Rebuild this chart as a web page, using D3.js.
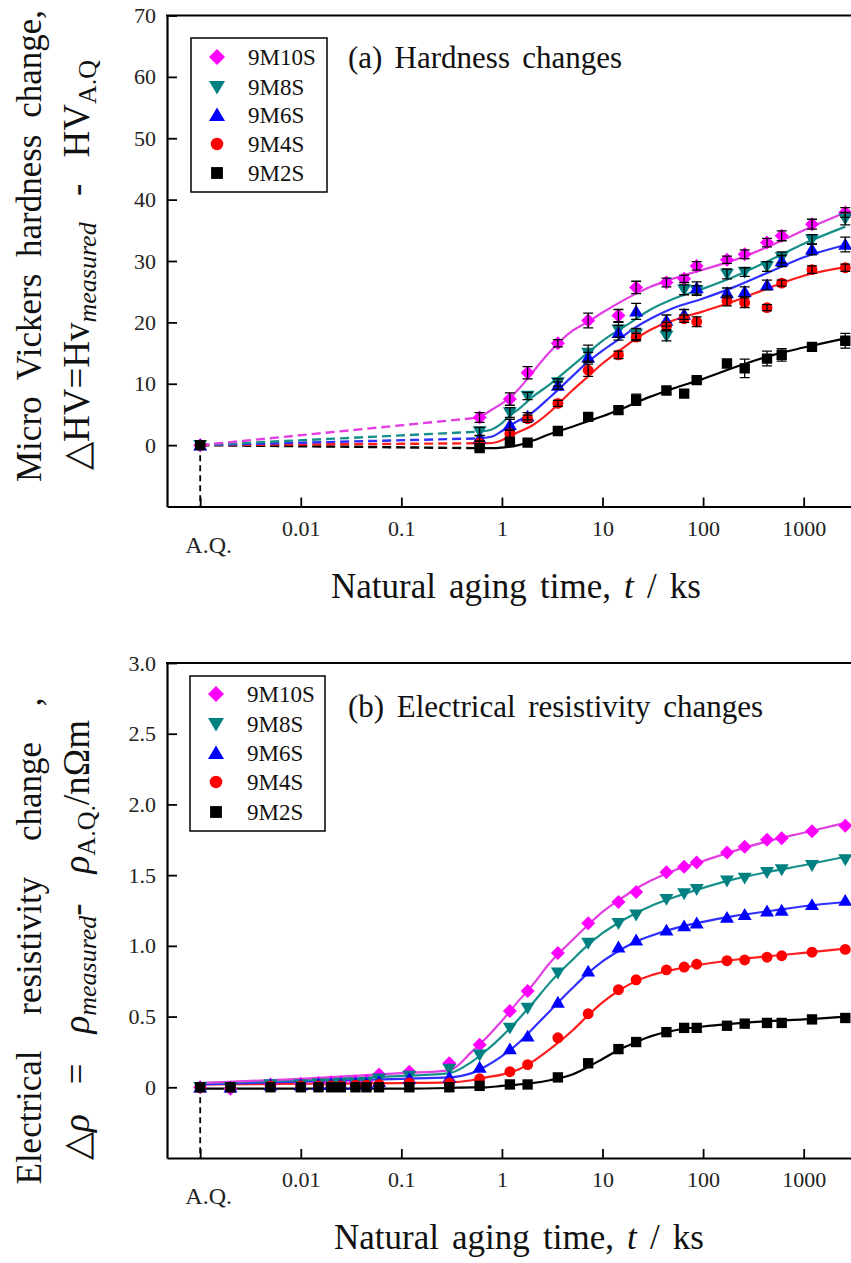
<!DOCTYPE html>
<html>
<head>
<meta charset="utf-8">
<script src="https://cdnjs.cloudflare.com/ajax/libs/d3/7.8.5/d3.min.js"></script>
<style>
  body { margin: 0; background: #fff; }
  svg { display: block; }
</style>
</head>
<body>
<svg id="fig" width="851" height="1263"></svg>
<script>
// ---- series ----
var seriesNames  = ["9M10S", "9M8S", "9M6S", "9M4S", "9M2S"];
var markerColors = ["#ff00ff", "#008080", "#0000ff", "#ff0000", "#000000"];
var lineColors   = ["#e23ee2", "#17908a", "#2f2fff", "#ff1c1c", "#000000"];
var markerShapes = ["diamond", "down", "up", "circle", "square"];

// ---- (a) hardness, t in ks (A.Q. drawn at 0.001) ----
var hvTimes   = [0.001, 0.6, 1.2, 1.8, 3.6, 7.2, 14.4, 21.6, 43.2, 64.8, 86.4, 172.8, 259.2, 432, 604.8, 1209.6, 2592];
var hv9M10S   = [0, 4.5, 7.5, 11.8, 16.6, 20.3, 21.1, 25.7, 26.5, 27.1, 29.2, 30.2, 31.1, 33.0, 34.1, 36.0, 37.9];
var hv9M8S    = [0, 2.2, 5.3, 8.0, 10.2, 15.0, 18.8, 18.1, 17.8, 25.3, 25.2, 27.9, 28.2, 29.1, 30.6, 33.5, 36.9];
var hv9M6S    = [0, 1.1, 3.3, 4.7, 9.7, 14.3, 18.3, 21.8, 20.3, 21.3, 25.6, 24.8, 25.0, 26.1, 30.0, 31.9, 32.7];
var hv9M4S    = [0, 0.3, 1.9, 4.3, 6.8, 12.2, 14.7, 17.6, 19.4, 20.6, 20.1, 23.5, 23.2, 22.4, 26.4, 28.6, 28.9];
var hv9M2S    = [0, -0.5, 0.5, 0.4, 2.3, 4.6, 5.7, 7.4, 8.9, 8.4, 10.6, 13.3, 12.5, 14.1, 14.7, 16.0, 17.0];
var hvErr9M10S = [0, 0.8, 1.0, 1.0, 0.6, 1.2, 1.0, 1.0, 0.7, 0.6, 0.7, 0.6, 0.7, 0.7, 0.8, 0.8, 0.8];
var hvErr9M8S  = [0, 0.7, 0.8, 0.6, 0.6, 1.3, 1.2, 0.9, 0.8, 0.8, 0.8, 0.8, 0.7, 0.8, 0.9, 0.8, 1.0];
var hvErr9M6S  = [0, 0.5, 0.9, 0.6, 0.6, 0.8, 1.2, 1.3, 0.9, 0.8, 1.0, 0.8, 0.8, 0.8, 0.9, 0.9, 1.2];
var hvErr9M4S  = [0, 0.4, 0.6, 0.6, 0.5, 1.0, 0.6, 0.6, 0.6, 0.6, 0.8, 0.8, 0.8, 0.5, 0.5, 0.6, 0.6];
var hvErr9M2S  = [0, 0.4, 0.4, 0.4, 0.4, 0.5, 0.5, 0.9, 0.5, 0.5, 0.5, 0.5, 1.5, 1.2, 1.0, 0.5, 1.2];
// fitted curves
var hvFitTimes  = [0.6, 0.8, 1, 1.2, 1.5, 2, 3, 5, 7.2, 10, 15, 20, 30, 50, 100, 200, 500, 1000, 2600];
var hvFit9M10S  = [4.5, 5.8, 6.8, 7.7, 9.3, 11.8, 15.2, 18.6, 20.1, 21.6, 23.3, 24.4, 25.8, 27.1, 28.6, 30.1, 32.7, 35.0, 37.9];
var hvFit9M8S   = [2.2, 2.6, 3.6, 4.8, 6.0, 7.8, 9.9, 12.9, 15.1, 17.0, 18.9, 20.2, 22.1, 23.8, 25.5, 27.4, 30.4, 32.8, 35.6];
var hvFit9M6S   = [1.1, 1.4, 2.3, 3.2, 4.1, 5.3, 7.8, 11.2, 13.6, 15.4, 17.4, 18.9, 20.6, 22.3, 23.9, 25.7, 28.5, 30.6, 32.6];
var hvFit9M4S   = [0.3, 0.35, 0.8, 1.5, 2.2, 3.2, 5.4, 8.9, 11.2, 13.3, 15.5, 17.0, 18.8, 20.3, 21.8, 23.4, 25.9, 27.6, 29.0];
var hvFit9M2S   = [-0.5, -0.5, -0.4, -0.25, 0.05, 0.7, 1.8, 3.0, 3.9, 4.7, 5.8, 6.7, 7.9, 9.2, 10.8, 12.6, 14.7, 15.9, 17.4];

// ---- (b) resistivity ----
var rhoTimes  = [0.001, 0.002, 0.005, 0.01, 0.015, 0.02, 0.025, 0.035, 0.045, 0.06, 0.12, 0.3, 0.6, 1.2, 1.8, 3.6, 7.2, 14.4, 21.6, 43.2, 64.8, 86.4, 172.8, 259.2, 432, 604.8, 1209.6, 2592];
var rho9M10S  = [0, -0.01, 0.02, 0.025, 0.03, 0.035, 0.035, 0.04, 0.045, 0.09, 0.11, 0.17, 0.30, 0.54, 0.68, 0.95, 1.16, 1.31, 1.38, 1.52, 1.56, 1.59, 1.66, 1.70, 1.75, 1.76, 1.81, 1.85];
var rho9M8S   = [0, 0.0, 0.02, 0.02, 0.025, 0.025, 0.03, 0.03, 0.035, 0.06, 0.08, 0.13, 0.23, 0.42, 0.56, 0.81, 1.02, 1.16, 1.22, 1.33, 1.37, 1.40, 1.46, 1.48, 1.52, 1.54, 1.57, 1.61];
var rho9M6S   = [0, 0.0, 0.015, 0.015, 0.02, 0.02, 0.02, 0.025, 0.025, 0.04, 0.06, 0.07, 0.14, 0.27, 0.36, 0.60, 0.82, 0.99, 1.04, 1.11, 1.14, 1.16, 1.20, 1.22, 1.245, 1.25, 1.29, 1.32];
var rho9M4S   = [0, 0.0, 0.01, 0.01, 0.01, 0.01, 0.01, 0.015, 0.015, 0.02, 0.03, 0.03, 0.06, 0.11, 0.16, 0.35, 0.52, 0.69, 0.76, 0.83, 0.85, 0.87, 0.895, 0.90, 0.92, 0.93, 0.955, 0.975];
var rho9M2S   = [0, 0.0, 0.0, 0.0, 0.0, 0.0, 0.0, 0.0, 0.0, 0.0, 0.0, 0.0, 0.01, 0.02, 0.02, 0.07, 0.17, 0.27, 0.32, 0.39, 0.42, 0.42, 0.435, 0.45, 0.455, 0.455, 0.48, 0.49];
var rhoFitTimes = [0.001, 0.01, 0.1, 0.3, 0.5, 0.7, 1, 1.5, 2, 3, 5, 7, 10, 15, 20, 30, 50, 100, 200, 500, 1000, 2600];
var rhoFit9M10S = [0.03, 0.06, 0.10, 0.12, 0.25, 0.35, 0.47, 0.62, 0.72, 0.88, 1.04, 1.14, 1.24, 1.33, 1.39, 1.46, 1.53, 1.60, 1.67, 1.75, 1.80, 1.87];
var rhoFit9M8S  = [0.03, 0.05, 0.08, 0.10, 0.18, 0.26, 0.36, 0.49, 0.59, 0.74, 0.90, 1.00, 1.09, 1.17, 1.22, 1.28, 1.34, 1.41, 1.47, 1.53, 1.57, 1.63];
var rhoFit9M6S  = [0.02, 0.04, 0.06, 0.07, 0.10, 0.15, 0.22, 0.32, 0.41, 0.54, 0.70, 0.80, 0.89, 0.97, 1.02, 1.07, 1.12, 1.17, 1.21, 1.25, 1.28, 1.31];
var rhoFit9M4S  = [0.02, 0.025, 0.03, 0.035, 0.05, 0.07, 0.09, 0.13, 0.18, 0.27, 0.40, 0.50, 0.60, 0.69, 0.74, 0.79, 0.83, 0.87, 0.90, 0.93, 0.95, 0.98];
var rhoFit9M2S  = [-0.01, -0.01, -0.01, -0.005, 0, 0, 0.01, 0.02, 0.03, 0.05, 0.09, 0.14, 0.20, 0.27, 0.31, 0.36, 0.40, 0.43, 0.45, 0.47, 0.48, 0.50];

// ---- ticks ----
var xTickValues = [0.001, 0.01, 0.1, 1, 10, 100, 1000];
var xTickLabels = ["A.Q.", "0.01", "0.1", "1", "10", "100", "1000"];
var hvTicks     = [0, 10, 20, 30, 40, 50, 60, 70];
var hvMinor     = [-5, 5, 15, 25, 35, 45, 55, 65];
var rhoTicks    = [0, 0.5, 1.0, 1.5, 2.0, 2.5, 3.0];
var rhoTickLabels = ["0", "0.5", "1.0", "1.5", "2.0", "2.5", "3.0"];
var rhoMinor    = [-0.25, 0.25, 0.75, 1.25, 1.75, 2.25, 2.75];

var FONT = "'Liberation Serif','Times New Roman',serif";
var svg = d3.select("#fig");

// marker outline around (0,0)
function shapePath(shape, s) {
	if (shape === "diamond") return "M0," + (-s) + "L" + s + ",0L0," + s + "L" + (-s) + ",0Z";
	if (shape === "down") return "M" + (-s) + "," + (-0.75 * s) + "L" + s + "," + (-0.75 * s) + "L0," + (0.95 * s) + "Z";
	if (shape === "up") return "M" + (-s) + "," + (0.75 * s) + "L" + s + "," + (0.75 * s) + "L0," + (-0.95 * s) + "Z";
	if (shape === "circle") {
		var r = s * 0.78;
		return "M" + r + ",0A" + r + "," + r + " 0 1 1 " + (-r) + ",0A" + r + "," + r + " 0 1 1 " + r + ",0Z";
	}
	var h = s * 0.74;
	return "M" + (-h) + "," + (-h) + "H" + h + "V" + h + "H" + (-h) + "Z";
}

// stretch the gaps between words so the text spans the wanted length
function fitWords(sel, target) {
	var node = sel.node();
	var w = node.getComputedTextLength();
	var gaps = (node.textContent.match(/ /g) || []).length;
	if (gaps > 0 && target > w) sel.attr("word-spacing", ((target - w) / gaps).toFixed(2));
}

function drawPanel(cfg) {
	var g = svg.append("g");
	var x = d3.scaleLog().domain([Math.pow(10, -3.33), Math.pow(10, 3.56)]).range([167, 860]);
	var y = d3.scaleLinear().domain(cfg.yDomain).range([cfg.bottom, cfg.top]);

	var clipId = "clip" + cfg.id;
	svg.append("clipPath").attr("id", clipId).append("rect")
		.attr("x", 167).attr("y", cfg.top).attr("width", 693).attr("height", cfg.bottom - cfg.top);

	// axes
	var minors = [];
	for (var d = -4; d <= 3; d++) {
		for (var k = 2; k <= 9; k++) {
			var v = k * Math.pow(10, d);
			if (x(v) > 168 && x(v) < 858) minors.push(v);
		}
	}
	var gx = g.append("g").attr("transform", "translate(0," + cfg.bottom + ")");
	gx.call(d3.axisBottom(x).tickValues(minors).tickSize(-5).tickSizeOuter(0).tickFormat(""));
	gx.call(d3.axisBottom(x).tickValues(xTickValues).tickSize(-9).tickSizeOuter(0)
		.tickFormat(function(d, i) { return xTickLabels[i]; }));
	gx.selectAll("text")
		.attr("dy", null)
		.attr("y", function(d) { return d === 0.001 ? 46 : 29; })
		.attr("dx", function(d) { return d === 0.001 ? 8 : 0; })
		.style("font-family", FONT).style("font-size", function(d) { return d === 0.001 ? "24px" : "22px"; })
		.attr("fill", "#222");

	var gy = g.append("g").attr("transform", "translate(167,0)");
	gy.call(d3.axisLeft(y).tickValues(cfg.yMinor).tickSize(-6).tickSizeOuter(0).tickFormat(""));
	gy.call(d3.axisLeft(y).tickValues(cfg.yTicks).tickSize(-10).tickSizeOuter(0).tickPadding(11)
		.tickFormat(function(d, i) { return cfg.yLabels[i]; }));
	gy.selectAll("text").style("font-family", FONT).style("font-size", "22px").attr("fill", "#222");

	g.selectAll(".domain").attr("stroke", "#000").attr("stroke-width", 2.2);
	g.selectAll(".tick line").attr("stroke", "#000").attr("stroke-width", 1.8);
	g.append("line").attr("x1", 166).attr("x2", 860).attr("y1", cfg.top).attr("y2", cfg.top)
		.attr("stroke", "#000").attr("stroke-width", 2.2);

	// dashed marker of the as-quenched state
	g.append("line")
		.attr("x1", x(0.001)).attr("x2", x(0.001))
		.attr("y1", y(0)).attr("y2", cfg.bottom)
		.attr("stroke", "#000").attr("stroke-width", 1.8).attr("stroke-dasharray", "6,4");

	var plot = g.append("g").attr("clip-path", "url(#" + clipId + ")");
	var line = d3.line()
		.x(function(p) { return x(p[0]); })
		.y(function(p) { return y(p[1]); })
		.curve(d3.curveMonotoneX);

	// fitted curves, black at the back
	for (var s = 4; s >= 0; s--) {
		var fit = cfg.fits[s];
		var pts = cfg.fitTimes.map(function(t, i) { return [t, fit[i]]; });
		if (cfg.dashedStart) {
			plot.append("path")
				.attr("d", d3.line().x(function(p) { return x(p[0]); }).y(function(p) { return y(p[1]); })
					([[cfg.times[0], cfg.values[s][0]], pts[0]]))
				.attr("fill", "none").attr("stroke", lineColors[s])
				.attr("stroke-width", 2.4).attr("stroke-dasharray", "9,5");
		}
		plot.append("path").attr("d", line(pts))
			.attr("fill", "none").attr("stroke", lineColors[s]).attr("stroke-width", 2.2);
	}

	// markers: magenta first, black last
	for (var m = 0; m < 5; m++) {
		var vals = cfg.values[m];
		plot.append("g").selectAll("path")
			.data(cfg.times.map(function(t, i) { return [t, vals[i]]; }))
			.join("path")
			.attr("transform", function(p) { return "translate(" + x(p[0]) + "," + y(p[1]) + ")"; })
			.attr("d", shapePath(markerShapes[m], cfg.markerSize))
			.attr("fill", markerColors[m]);
	}

	// error bars on top
	if (cfg.errors) {
		for (var e = 0; e < 5; e++) {
			var ev = cfg.values[e], ee = cfg.errors[e];
			var bars = cfg.times.map(function(t, i) { return [t, ev[i], ee[i]]; })
				.filter(function(p) { return p[2] > 0; });
			var eg = plot.append("g").attr("stroke", "#000").attr("stroke-width", 1.3);
			bars.forEach(function(p) {
				var cx = x(p[0]), y0 = y(p[1] - p[2]), y1 = y(p[1] + p[2]);
				eg.append("line").attr("x1", cx).attr("x2", cx).attr("y1", y0).attr("y2", y1);
				eg.append("line").attr("x1", cx - 5).attr("x2", cx + 5).attr("y1", y0).attr("y2", y0);
				eg.append("line").attr("x1", cx - 5).attr("x2", cx + 5).attr("y1", y1).attr("y2", y1);
			});
		}
	}

	// legend
	var lg = g.append("g");
	lg.append("rect").attr("x", cfg.legend[0]).attr("y", cfg.legend[1])
		.attr("width", cfg.legend[2]).attr("height", cfg.legend[3])
		.attr("fill", "#fff").attr("stroke", "#000").attr("stroke-width", 1.5);
	seriesNames.forEach(function(name, i) {
		var ry = cfg.legendRows[i];
		lg.append("path").attr("transform", "translate(" + (cfg.legend[0] + 26) + "," + ry + ")")
			.attr("d", shapePath(markerShapes[i], 8)).attr("fill", markerColors[i]);
		lg.append("text").attr("x", cfg.legend[0] + 57).attr("y", ry).attr("dy", "0.35em")
			.style("font-family", FONT).style("font-size", "23px").attr("fill", "#111").text(name);
	});

	// panel caption
	var cap = g.append("text").attr("x", 348).attr("y", cfg.captionY)
		.style("font-family", FONT).style("font-size", "31px").attr("fill", "#111").text(cfg.caption);
	fitWords(cap, cfg.captionWidth);

	// x title
	var xt = g.append("text").attr("x", cfg.xTitleX).attr("y", cfg.bottom + 91).attr("text-anchor", "middle")
		.style("font-family", FONT).style("font-size", "35px").attr("fill", "#111");
	xt.append("tspan").text("Natural aging time, ");
	xt.append("tspan").style("font-style", "italic").text("t");
	xt.append("tspan").text(" / ks");
	fitWords(xt, 370);

	// y titles
	var y1 = g.append("text").attr("transform", "translate(41," + cfg.yTitle1[0] + ") rotate(-90)")
		.attr("text-anchor", "middle").style("font-family", FONT).style("font-size", "35px")
		.attr("fill", "#111").text(cfg.yTitle1[2]);
	fitWords(y1, cfg.yTitle1[1]);

	var y2 = g.append("text").attr("transform", "translate(89," + cfg.yTitle2[0] + ") rotate(-90)")
		.attr("text-anchor", "middle").style("font-family", FONT).style("font-size", "37px").attr("fill", "#111");
	cfg.yTitle2[2].forEach(function(part) {
		var ts = y2.append("tspan").text(part.t);
		if (part.it) ts.style("font-style", "italic");
		if (part.sub) ts.style("font-size", "26px");
		if (part.dy) ts.attr("dy", part.dy);
	});
	fitWords(y2, cfg.yTitle2[1]);
}

drawPanel({
	id: "a", top: 15.5, bottom: 506.5, yDomain: [-10, 70],
	yTicks: hvTicks, yLabels: hvTicks.map(String), yMinor: hvMinor,
	times: hvTimes,
	values: [hv9M10S, hv9M8S, hv9M6S, hv9M4S, hv9M2S],
	errors: [hvErr9M10S, hvErr9M8S, hvErr9M6S, hvErr9M4S, hvErr9M2S],
	fitTimes: hvFitTimes,
	fits: [hvFit9M10S, hvFit9M8S, hvFit9M6S, hvFit9M4S, hvFit9M2S],
	dashedStart: true, markerSize: 7,
	legend: [191, 38, 136, 154], legendRows: [57, 87, 115, 144, 173],
	caption: "(a) Hardness changes", captionY: 68, captionWidth: 274,
	xTitleX: 516,
	yTitle1: [246, 472, "Micro Vickers hardness change,"],
	yTitle2: [265, 410, [
		{t: "\u25B3HV=Hv"},
		{t: "measured", it: true, sub: true, dy: 7},
		{t: " - HV", dy: -7},
		{t: "A.Q", sub: true, dy: 7}
	]]
});

drawPanel({
	id: "b", top: 663, bottom: 1158, yDomain: [-0.5, 3.0],
	yTicks: rhoTicks, yLabels: rhoTickLabels, yMinor: rhoMinor,
	times: rhoTimes,
	values: [rho9M10S, rho9M8S, rho9M6S, rho9M4S, rho9M2S],
	errors: null,
	fitTimes: rhoFitTimes,
	fits: [rhoFit9M10S, rhoFit9M8S, rhoFit9M6S, rhoFit9M4S, rhoFit9M2S],
	dashedStart: false, markerSize: 7,
	legend: [190, 676, 135, 155], legendRows: [694, 724, 753, 782, 812],
	caption: "(b) Electrical resistivity changes", captionY: 717, captionWidth: 415,
	xTitleX: 519,
	yTitle1: [941, 487, "Electrical resistivity change ,"],
	yTitle2: [940, 440, [
		{t: "\u25B3"},
		{t: "\u03C1", it: true},
		{t: " = "},
		{t: "\u03C1", it: true},
		{t: "measured", it: true, sub: true, dy: 7},
		{t: "- ", dy: -7},
		{t: "\u03C1", it: true},
		{t: "A.Q.", sub: true, dy: 6},
		{t: "/n\u03A9m", dy: -6}
	]]
});
</script>
</body>
</html>
